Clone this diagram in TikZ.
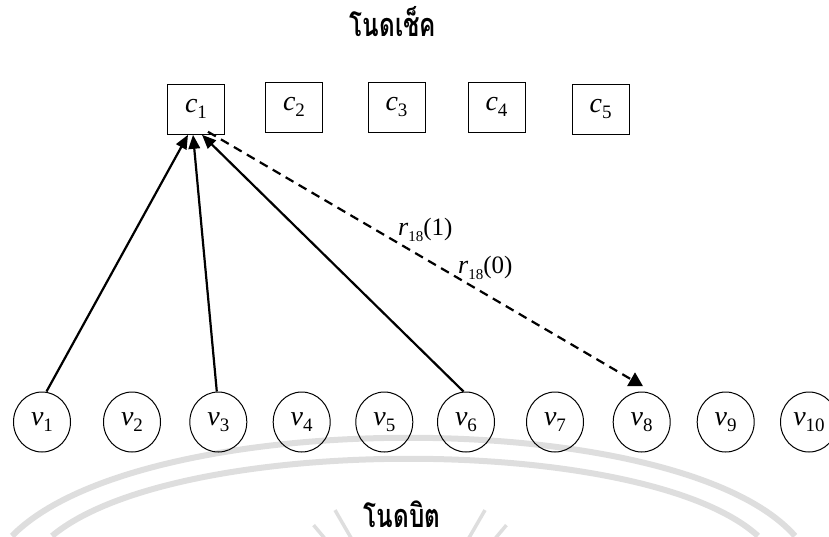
\documentclass[tikz,border=0pt]{standalone}
\usepackage{fontspec}
\setmainfont{Liberation Serif}
\newfontfamily\thaifont[Script=Thai]{Loma}
\usetikzlibrary{shapes.geometric,arrows.meta}
\newcommand\mylab[2]{{\fontsize{28}{28}\selectfont\itshape #1}\raisebox{-6pt}{\fontsize{19}{19}\selectfont #2}}
\newcommand\rlab[2]{{\fontsize{26}{26}\selectfont\itshape r}\raisebox{-6pt}{\fontsize{15}{15}\selectfont 18}{\fontsize{25}{25}\selectfont (#2)}}
\newcommand\thaititle[1]{\raisebox{0pt}[\height][0pt]{\scalebox{0.97}[1.3]{\thaifont\bfseries\fontsize{25}{25}\selectfont #1}}}
\tikzset{
  checkbox/.style={draw, line width=1pt, rectangle, minimum width=57pt, minimum height=50pt, inner sep=0pt},
  bitnode/.style={draw, line width=1pt, ellipse, minimum width=57pt, minimum height=60pt, inner sep=0pt},
  solidarrow/.style={line width=2.2pt, -{Triangle[length=14pt,width=11.5pt]}},
  dasharrow/.style={line width=2.2pt, dash pattern=on 9pt off 6pt},
  tip/.style={fill, regular polygon, regular polygon sides=3, minimum size=18.5pt, inner sep=0pt},
  title/.style={anchor=base, inner sep=0pt},
  wm/.style={line width=6pt, draw=black!13}
}
\begin{document}
\begin{tikzpicture}[x=1pt,y=-1pt]
\useasboundingbox (0,0) rectangle (829,536);
% faint watermark
\draw[wm] (12,536) .. controls (140,405) and (680,405) .. (795,536);
\draw[wm] (52,536) .. controls (175,433) and (645,433) .. (758,536);
\foreach \a in {-150,-140,-130,-120,-60,-50,-40,-30}
  \draw[wm, line width=3.5pt, shift={(410,640)}] (\a:112) -- (\a:150);
% titles
\node[title] (ttop) at (393,36) {\thaititle{โนดเช็ค}};
\node[title] (tbot) at (402,527) {\thaititle{โนดบิต}};
% check nodes
\node[checkbox] (c1) at (196,109.3) {\mylab{c}{1}};
\node[checkbox] (c2) at (294,107.3) {\mylab{c}{2}};
\node[checkbox] (c3) at (396.5,107.3) {\mylab{c}{3}};
\node[checkbox] (c4) at (496.5,107.3) {\mylab{c}{4}};
\node[checkbox] (c5) at (600.7,109.2) {\mylab{c}{5}};
% bit nodes
\foreach \i/\x in {1/42,2/132,3/218.3,4/301.7,5/384.3,6/466,7/555,8/641.7,9/725.7,10/809}
  \node[bitnode] (v\i) at (\x,422) {\mylab{v}{\i}};
% arrows
\draw[solidarrow] ([xshift=4.5pt]v1.north) -- ([xshift=-8pt]c1.south);
\draw[solidarrow] ([xshift=-1.5pt]v3.north) -- ([xshift=-3pt]c1.south);
\draw[solidarrow] ([xshift=-2.5pt]v6.north) -- ([xshift=6pt]c1.south);
\node[tip] (t8) at (635,381.6) {};
\draw[dasharrow] ([xshift=12pt,yshift=3pt]c1.south) -- (t8);
% labels
\node[anchor=base west, inner sep=0pt] (r1) at (398,235) {\rlab{r}{1}};
\node[anchor=base west, inner sep=0pt] (r0) at (458,273) {\rlab{r}{0}};
\end{tikzpicture}
\end{document}
